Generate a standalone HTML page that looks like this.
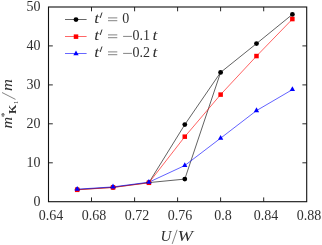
<!DOCTYPE html>
<html><head><meta charset="utf-8"><title>plot</title>
<style>
html,body{margin:0;padding:0;background:#fff;}
body{width:322px;height:245px;overflow:hidden;}
svg{display:block;will-change:transform;}
text{font-family:"Liberation Serif",serif;fill:#303030;}
.it{font-style:italic;}
</style></head><body>
<svg width="322" height="245" viewBox="0 0 322 245">
<rect x="0" y="0" width="322" height="245" fill="#ffffff"/>
<polyline points="77.2,189.6 113.0,187.3 148.9,182.6 184.8,124.6 220.6,72.4 256.5,43.6 292.4,14.4" fill="none" stroke="#000" stroke-width="0.62"/>
<polyline points="148.9,182.6 184.8,179.1 220.6,72.4" fill="none" stroke="#000" stroke-width="0.62"/>
<polyline points="77.2,189.8 113.0,187.5 148.9,182.8 184.8,136.7 220.6,94.6 256.5,56.1 292.4,19.1" fill="none" stroke="#ff0000" stroke-width="0.62"/>
<polyline points="77.2,189.2 113.0,186.9 148.9,182.2 184.8,165.5 220.6,138.2 256.5,110.6 292.4,89.6" fill="none" stroke="#0000ff" stroke-width="0.62"/>
<circle cx="77.2" cy="189.6" r="2.4" fill="#000"/>
<circle cx="113.0" cy="187.3" r="2.4" fill="#000"/>
<circle cx="148.9" cy="182.6" r="2.4" fill="#000"/>
<circle cx="184.8" cy="124.6" r="2.4" fill="#000"/>
<circle cx="220.6" cy="72.4" r="2.4" fill="#000"/>
<circle cx="256.5" cy="43.6" r="2.4" fill="#000"/>
<circle cx="292.4" cy="14.4" r="2.4" fill="#000"/>
<circle cx="184.8" cy="179.1" r="2.4" fill="#000"/>
<rect x="74.94" y="187.57" width="4.5" height="4.5" fill="#ff0000"/>
<rect x="110.80" y="185.24" width="4.5" height="4.5" fill="#ff0000"/>
<rect x="146.66" y="180.56" width="4.5" height="4.5" fill="#ff0000"/>
<rect x="182.52" y="134.42" width="4.5" height="4.5" fill="#ff0000"/>
<rect x="218.38" y="92.36" width="4.5" height="4.5" fill="#ff0000"/>
<rect x="254.24" y="53.81" width="4.5" height="4.5" fill="#ff0000"/>
<rect x="290.11" y="16.82" width="4.5" height="4.5" fill="#ff0000"/>
<path d="M77.2 185.9 L79.84 190.79 L74.54 190.79 Z" fill="#0000ff"/>
<path d="M113.0 183.6 L115.70 188.45 L110.40 188.45 Z" fill="#0000ff"/>
<path d="M148.9 178.9 L151.56 183.78 L146.26 183.78 Z" fill="#0000ff"/>
<path d="M184.8 162.2 L187.42 167.04 L182.12 167.04 Z" fill="#0000ff"/>
<path d="M220.6 134.9 L223.28 139.78 L217.98 139.78 Z" fill="#0000ff"/>
<path d="M256.5 107.3 L259.14 112.13 L253.84 112.13 Z" fill="#0000ff"/>
<path d="M292.4 86.3 L295.01 91.10 L289.71 91.10 Z" fill="#0000ff"/>
<rect x="48.5" y="7.0" width="258.2" height="194.7" fill="none" stroke="#111" stroke-width="1.1"/>
<path d="M91.5 201.7 v-4.3 M91.5 7.0 v4.3 M134.6 201.7 v-4.3 M134.6 7.0 v4.3 M177.6 201.7 v-4.3 M177.6 7.0 v4.3 M220.6 201.7 v-4.3 M220.6 7.0 v4.3 M263.7 201.7 v-4.3 M263.7 7.0 v4.3 M48.5 162.8 h4.3 M306.7 162.8 h-4.3 M48.5 123.8 h4.3 M306.7 123.8 h-4.3 M48.5 84.9 h4.3 M306.7 84.9 h-4.3 M48.5 45.9 h4.3 M306.7 45.9 h-4.3" stroke="#111" stroke-width="0.9" fill="none"/>
<text x="40.6" y="205.5" font-size="14" text-anchor="end">0</text>
<text x="40.6" y="166.6" font-size="14" text-anchor="end">10</text>
<text x="40.6" y="127.6" font-size="14" text-anchor="end">20</text>
<text x="40.6" y="88.7" font-size="14" text-anchor="end">30</text>
<text x="40.6" y="49.7" font-size="14" text-anchor="end">40</text>
<text x="40.6" y="10.8" font-size="14" text-anchor="end">50</text>
<text x="50.9" y="219.6" font-size="14" text-anchor="middle">0.64</text>
<text x="93.9" y="219.6" font-size="14" text-anchor="middle">0.68</text>
<text x="137.0" y="219.6" font-size="14" text-anchor="middle">0.72</text>
<text x="180.0" y="219.6" font-size="14" text-anchor="middle">0.76</text>
<text x="223.0" y="219.6" font-size="14" text-anchor="middle">0.8</text>
<text x="266.1" y="219.6" font-size="14" text-anchor="middle">0.84</text>
<text x="309.1" y="219.6" font-size="14" text-anchor="middle">0.88</text>
<text x="160.6" y="240.8" font-size="15" class="it">U</text>
<path d="M172.2 243.9 L177.1 229.8" stroke="#303030" stroke-width="0.6"/>
<text x="177.6" y="240.8" font-size="15" class="it" textLength="15.4" lengthAdjust="spacingAndGlyphs">W</text>
<g transform="translate(12.4 128.3) rotate(-90)"><text x="-0.2" y="0" font-size="14" class="it" textLength="11.6" lengthAdjust="spacingAndGlyphs">m</text><text x="11.0" y="-4.0" font-size="9.5">*</text><text x="14.3" y="3.4" font-size="9.8" font-weight="bold" textLength="9.3" lengthAdjust="spacingAndGlyphs">K</text><text x="24.2" y="5.5" font-size="6.5">1</text><path d="M28.9 3.1 L35.8 -10.4" stroke="#303030" stroke-width="0.6"/><text x="37.2" y="0" font-size="14" class="it" textLength="11.9" lengthAdjust="spacingAndGlyphs">m</text></g>
<path d="M65 19.5 H86.6" stroke="#000" stroke-width="0.6"/>
<circle cx="76.0" cy="19.6" r="2.4" fill="#000"/>
<text x="94.2" y="23.0" font-size="15" class="it" textLength="4.9" lengthAdjust="spacingAndGlyphs">t</text>
<path d="M101.9 12.9 L100.3 17.6" stroke="#303030" stroke-width="1" stroke-linecap="round"/>
<path d="M108 17.9 H117.3 M108 20.7 H117.3" stroke="#303030" stroke-width="0.6"/>
<text x="122.2" y="23.0" font-size="14">0</text>
<path d="M65 36.5 H86.6" stroke="#ff0000" stroke-width="0.6"/>
<rect x="73.75" y="34.40" width="4.5" height="4.5" fill="#ff0000"/>
<text x="94.2" y="40.0" font-size="15" class="it" textLength="4.9" lengthAdjust="spacingAndGlyphs">t</text>
<path d="M101.9 29.9 L100.3 34.6" stroke="#303030" stroke-width="1" stroke-linecap="round"/>
<path d="M108 34.9 H117.3 M108 37.7 H117.3" stroke="#303030" stroke-width="0.6"/>
<path d="M123.1 36.4 H132" stroke="#303030" stroke-width="0.6"/>
<text x="132.6" y="40.0" font-size="14">0.1</text>
<text x="152.5" y="40.0" font-size="15" class="it" textLength="4.9" lengthAdjust="spacingAndGlyphs">t</text>
<path d="M65 53.5 H86.6" stroke="#0000ff" stroke-width="0.6"/>
<path d="M76.0 50.4 L78.65 55.20 L73.35 55.20 Z" fill="#0000ff"/>
<text x="94.2" y="57.0" font-size="15" class="it" textLength="4.9" lengthAdjust="spacingAndGlyphs">t</text>
<path d="M101.9 46.9 L100.3 51.6" stroke="#303030" stroke-width="1" stroke-linecap="round"/>
<path d="M108 51.9 H117.3 M108 54.7 H117.3" stroke="#303030" stroke-width="0.6"/>
<path d="M123.1 53.4 H132" stroke="#303030" stroke-width="0.6"/>
<text x="132.6" y="57.0" font-size="14">0.2</text>
<text x="152.5" y="57.0" font-size="15" class="it" textLength="4.9" lengthAdjust="spacingAndGlyphs">t</text>
</svg></body></html>
